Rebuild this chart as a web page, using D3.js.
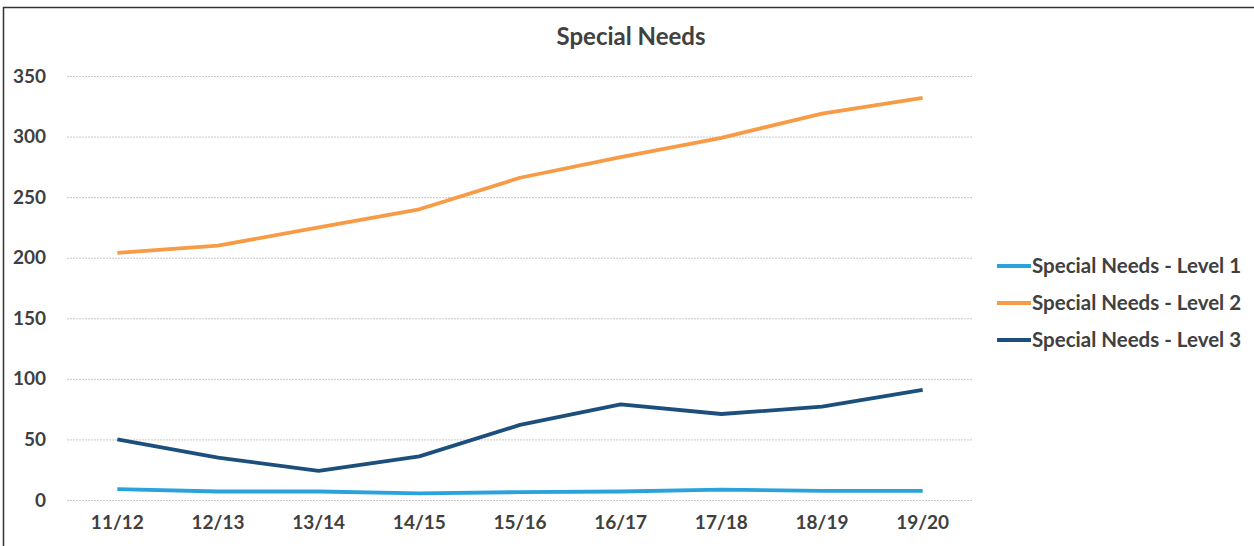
<!DOCTYPE html>
<html lang="en">
<head>
  <meta charset="UTF-8">
  <title>Special Needs</title>
  <script src="https://d3js.org/d3.v7.min.js"></script>
  <style>
    body { margin: 0; background: #fff; }
    text { font-family: Lato, "Open Sans", sans-serif; fill: #404040; }
  </style>
</head>
<body>
  <script>
    const width = 1254, height = 546;

    const years = ['11/12', '12/13', '13/14', '14/15', '15/16', '16/17', '17/18', '18/19', '19/20'];
    const level1 = [9, 7, 7, 5.5, 6.5, 7, 8.5, 7.5, 7.5];
    const level2 = [204, 210, 225, 240, 266, 283, 299, 319, 332];
    const level3 = [50, 35, 24, 36, 62, 79, 71, 77, 91];
    const yTicks = [0, 50, 100, 150, 200, 250, 300, 350];

    const series = [
      { name: 'Special Needs - Level 1', values: level1, color: '#2aa3dc' },
      { name: 'Special Needs - Level 2', values: level2, color: '#f89b47' },
      { name: 'Special Needs - Level 3', values: level3, color: '#1d4f7c' }
    ];

    const svg = d3.select('body')
      .append('svg')
      .attr('width', width)
      .attr('height', height);

    // outer frame (scanned page border, cut off right and bottom)
    svg.append('rect')
      .attr('x', 3.5).attr('y', 7.5)
      .attr('width', 1300).attr('height', 600)
      .attr('fill', 'none')
      .attr('stroke', '#333')
      .attr('stroke-width', 1.5);

    const x = d3.scaleBand().domain(years).range([67, 973]);
    const y = d3.scaleLinear().domain([0, 350]).range([500, 76]);

    // gridlines
    svg.append('g')
      .attr('transform', 'translate(67,0)')
      .call(d3.axisLeft(y).tickValues(yTicks).tickSize(-906).tickFormat(''))
      .call(g => g.select('.domain').remove())
      .call(g => g.selectAll('line')
        .attr('stroke', '#c8c8c8')
        .attr('stroke-dasharray', '2,1'));

    // y labels
    svg.append('g')
      .attr('transform', 'translate(46,0)')
      .call(d3.axisLeft(y).tickValues(yTicks).tickSize(0).tickPadding(0))
      .call(g => g.select('.domain').remove())
      .call(g => g.selectAll('text')
        .attr('font-size', 19)
        .attr('font-weight', 'bold')
        .attr('font-family', 'Lato, sans-serif')
        .attr('fill', '#404040'));

    // x labels
    svg.append('g')
      .attr('transform', 'translate(0,515)')
      .call(d3.axisBottom(x).tickSize(0).tickPadding(0))
      .call(g => g.select('.domain').remove())
      .call(g => g.selectAll('text')
        .attr('font-size', 19)
        .attr('font-weight', 'bold')
        .attr('font-family', 'Lato, sans-serif')
        .attr('fill', '#404040'));

    const line = d3.line()
      .x((d, i) => x(years[i]) + x.bandwidth() / 2)
      .y(d => y(d));

    svg.selectAll('.series')
      .data(series)
      .join('path')
      .attr('class', 'series')
      .attr('d', d => line(d.values))
      .attr('fill', 'none')
      .attr('stroke', d => d.color)
      .attr('stroke-width', 3.8)
      .attr('stroke-linejoin', 'round');

    // title
    svg.append('text')
      .attr('x', 631).attr('y', 45)
      .attr('text-anchor', 'middle')
      .attr('font-size', 24)
      .attr('font-weight', 'bold')
      .text('Special Needs');

    // legend
    const legend = svg.append('g')
      .selectAll('g')
      .data(series)
      .join('g')
      .attr('transform', (d, i) => `translate(997, ${266 + i * 37})`);
    legend.append('line')
      .attr('x1', 0).attr('x2', 34)
      .attr('stroke', d => d.color)
      .attr('stroke-width', 3.8);
    legend.append('text')
      .attr('x', 35).attr('dy', '0.35em')
      .attr('font-size', 20.5)
      .attr('font-weight', 'bold')
      .text(d => d.name);
  </script>
</body>
</html>
